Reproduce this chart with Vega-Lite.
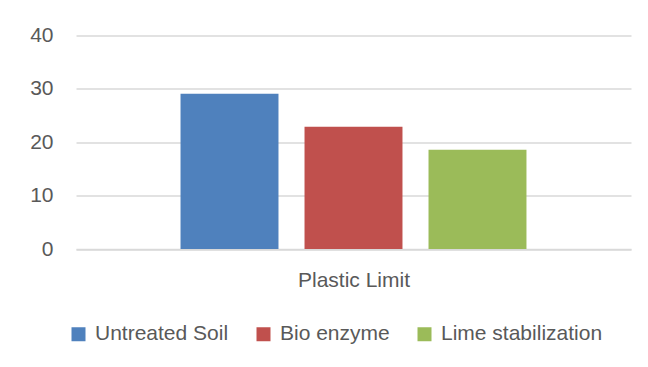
{
  "$schema": "https://vega.github.io/schema/vega-lite/v6.json",
  "width": 555,
  "height": 213.5,
  "autosize": {"type": "none"},
  "padding": {"left": 76, "top": 35.5, "right": 17, "bottom": 118},
  "background": "white",
  "config": {
    "font": "Liberation Sans",
    "view": {"stroke": null}
  },
  "data": {
    "values": [
      {"category": "Plastic Limit", "series": "Untreated Soil", "value": 29.1},
      {"category": "Plastic Limit", "series": "Bio enzyme", "value": 22.9},
      {"category": "Plastic Limit", "series": "Lime stabilization", "value": 18.6}
    ]
  },
  "mark": {"type": "bar"},
  "encoding": {
    "x": {
      "field": "series",
      "type": "nominal",
      "sort": ["Untreated Soil", "Bio enzyme", "Lime stabilization"],
      "scale": {"paddingInner": 0.21, "paddingOuter": 0.843},
      "axis": {
        "title": "Plastic Limit",
        "labels": false,
        "ticks": false,
        "domainColor": "#D9D9D9",
        "domainWidth": 1.5,
        "titleFont": "Liberation Sans",
        "titleFontSize": 21,
        "titleFontWeight": "normal",
        "titleColor": "#595959",
        "titlePadding": 20
      }
    },
    "y": {
      "field": "value",
      "type": "quantitative",
      "scale": {"domain": [0, 40], "nice": false},
      "axis": {
        "title": null,
        "values": [0, 10, 20, 30, 40],
        "domain": false,
        "ticks": false,
        "gridColor": "#D9D9D9",
        "gridWidth": 1.5,
        "labelFontSize": 21,
        "labelColor": "#595959",
        "labelPadding": 23
      }
    },
    "color": {
      "field": "series",
      "type": "nominal",
      "sort": ["Untreated Soil", "Bio enzyme", "Lime stabilization"],
      "scale": {"range": ["#4F81BD", "#C0504D", "#9BBB59"]},
      "legend": {
        "title": null,
        "orient": "none",
        "direction": "horizontal",
        "legendX": -8,
        "legendY": 288,
        "padding": 0,
        "symbolType": "square",
        "symbolSize": 196,
        "symbolStrokeWidth": 0,
        "symbolOpacity": 1,
        "labelFontSize": 21,
        "labelLimit": 400,
        "labelColor": "#595959",
        "labelOffset": 6,
        "columnPadding": 24
      }
    }
  }
}
